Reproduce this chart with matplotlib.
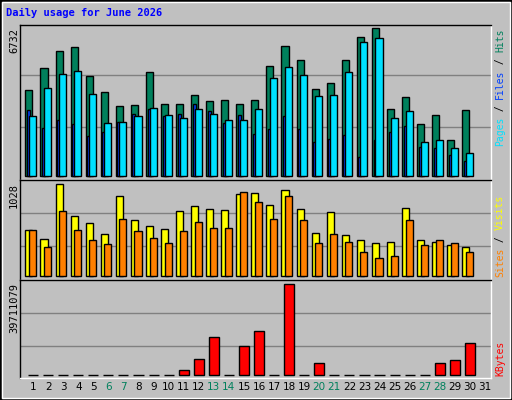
import numpy as np
import matplotlib.pyplot as plt
from matplotlib.patches import Rectangle

days = list(range(1, 32))
hits = [3896, 4897, 5670, 5852, 4533, 3805, 3168, 3214, 4715, 3259, 3259, 3669, 3396, 3441, 3259,
        3441, 4988, 5897, 5261, 3942, 4214, 5261, 6307, 6732, 3032, 3578, 2350, 2759, 1622, 2987]
files = [2714, 3987, 4624, 4760, 3714, 2395, 2441, 2714, 3077, 2759, 2623, 3032, 2805, 2532, 2532,
         3032, 4442, 4942, 4578, 3623, 3669, 4715, 6079, 6261, 2623, 2941, 1531, 1622, 1258, 1031]
pages = [2987, 2168, 2532, 2350, 1804, 1986, 2441, 2805, 3032, 2714, 2805, 3259, 2941, 2395, 2759,
         1895, 2122, 2714, 2122, 1531, 1668, 1850, 849, 1622, 1986, 2259, 1304, 1258, 940, 667]
sites = [513, 413, 1028, 670, 592, 469, 893, 625, 558, 525, 725, 781, 748, 737, 915,
         926, 792, 960, 748, 480, 714, 458, 402, 368, 379, 759, 402, 379, 346, 324]
visits = [513, 324, 725, 513, 402, 357, 636, 502, 424, 368, 502, 603, 536, 536, 937,
          826, 636, 893, 625, 368, 469, 379, 268, 201, 223, 625, 346, 402, 368, 268]
kbytes = [0, 0, 0, 0, 0, 0, 0, 0, 0, 0, 2180000, 6980000, 16600000, 0, 12660000,
          19200000, 0, 39711079, 0, 5240000, 0, 0, 0, 0, 0, 0, 0, 5240000, 6550000, 13960000]
weekend = [6, 7, 13, 14, 20, 21, 27, 28]

W, H = 512, 400
bg = '#C0C0C0'
mono = 'DejaVu Sans Mono'
fig = plt.figure(figsize=(5.12, 4.0), dpi=100, facecolor=bg)
fig.patches.append(Rectangle((0, 0), 1, 1, transform=fig.transFigure, fill=False,
                             edgecolor='black', linewidth=2))
fig.patches.append(Rectangle((2/W, 2/H), 1-4/W, 1-4/H, transform=fig.transFigure, fill=False,
                             edgecolor='white', linewidth=1))

fig.text(6/W, 1-16/H, 'Daily usage for June 2026', color='#0000FF', fontsize=7.5,
         fontweight='bold', family=mono, va='baseline')

def panel(top, bottom):
    ax = fig.add_axes([20/W, 1-bottom/H, 471/W, (bottom-top)/H], facecolor=bg)
    ax.set_xlim(0.133, 31.4)
    ax.set_xticks([]); ax.set_yticks([])
    for s in ax.spines.values():
        s.set_color('black'); s.set_linewidth(1)
    ax.spines['bottom'].set_color('white')
    ax.spines['right'].set_color('white')
    return ax

x = np.array(days[:30])
ec = dict(edgecolor='black', linewidth=1)

# top panel
ax1 = panel(25, 180)
mx = max(hits)
ax1.set_ylim(-4*mx/148, 151*mx/148)
for f in (0.33, 0.68):
    ax1.axhline(mx*f, color='#808080', linewidth=1, zorder=0)
ax1.bar(x-0.51, hits, width=0.47, align='edge', color='#00805C', zorder=2, **ec)
ax1.bar(x-0.4, pages, width=0.2, align='edge', color='#0040FF', zorder=3, **ec)
ax1.bar(x-0.27, files, width=0.47, align='edge', color='#00E0FF', zorder=4, **ec)

# middle panel
ax2 = panel(180, 280)
mx = max(sites)
ax2.set_ylim(-4*mx/92, 96*mx/92)
for f in (0.33, 0.68):
    ax2.axhline(mx*f, color='#808080', linewidth=1, zorder=0)
ax2.bar(x-0.51, sites, width=0.47, align='edge', color='#FFFF00', zorder=2, **ec)
ax2.bar(x-0.27, visits, width=0.47, align='edge', color='#FF8000', zorder=3, **ec)

# bottom panel
ax3 = panel(280, 378)
mx = max(kbytes)
ax3.set_ylim(-3*mx/91, 95*mx/91)
for f in (0.32, 0.68):
    ax3.axhline(mx*f, color='#808080', linewidth=1, zorder=0)
ax3.bar(x, kbytes, width=0.67, color='#FF0000', zorder=2, **ec)

# left max labels
for ax, v, yp in ((ax1, max(hits), 28), (ax2, max(sites), 183), (ax3, max(kbytes), 283)):
    fig.text(9/W, 1-yp/H, str(v), rotation=90, fontsize=7.5, family=mono, ha='left', va='top')

# right legends
def legend(parts, ybot):
    y = ybot
    for txt, col in parts:
        fig.text(500/W, 1-y/H, txt, rotation=90, fontsize=7, family=mono,
                 color=col, ha='center', va='bottom')
        y -= len(txt) * 5.85
legend([('Pages', '#00E0FF'), (' / ', 'black'), ('Files', '#0040FF'),
        (' / ', 'black'), ('Hits', '#00805C')], 146)
legend([('Sites', '#FF8000'), (' / ', 'black'), ('Visits', '#FFFF00')], 277)
legend([('KBytes', '#FF0000')], 376)

# day labels
for d in days:
    xp = (20 + (d - 0.133) / (31.4 - 0.133) * 471) / W
    fig.text(xp, 1-390/H, str(d), fontsize=7.5, family='DejaVu Sans', ha='center', va='baseline',
             color='#00805C' if d in weekend else 'black')

fig.savefig('out.png', dpi=100, facecolor=bg)
